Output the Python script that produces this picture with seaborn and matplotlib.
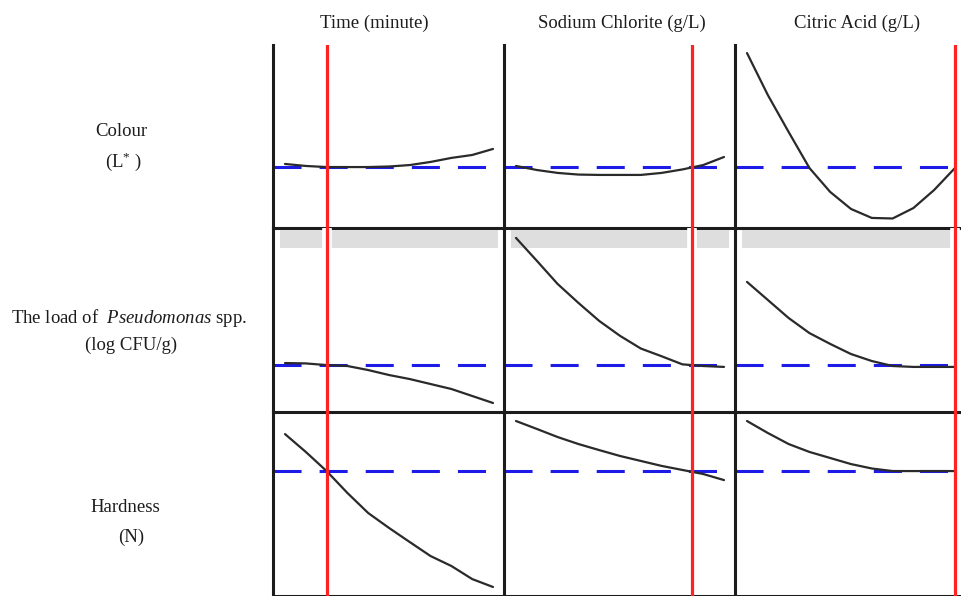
import matplotlib
matplotlib.use("Agg")
import matplotlib.pyplot as plt
import numpy as np
import pandas as pd
import seaborn as sns

# Factors (columns) and responses (rows) of the optimisation plot
factors = ["Time (minute)", "Sodium Chlorite (g/L)", "Citric Acid (g/L)"]
responses = ["Colour", "Pseudomonas", "Hardness"]
row_labels = [
    ["Colour", r"(L$^{*}$ )"],
    [r"The load of  $\mathit{Pseudomonas}$ spp.", "(log CFU/g)"],
    ["Hardness", "(N)"],
]

# Coded factor levels along each response trace
levels = [-1.0, -0.8, -0.6, -0.4, -0.2, 0.0, 0.2, 0.4, 0.6, 0.8, 1.0]

# Optimum factor settings (coded) and predicted responses (relative scale 0-100)
optimum = [-0.6, 0.69, 1.0]
predicted = [33.3, 25.5, 67.9]

# Response traces, relative scale (0 = bottom, 100 = top of each row)
colour_time = [35.0, 33.9, 33.3, 33.3, 33.3, 33.6, 34.4, 36.1, 38.3, 39.9, 43.2]
colour_chlorite = [33.9, 31.7, 30.1, 29.2, 29.0, 29.0, 29.0, 30.1, 32.0, 34.4, 38.8]
colour_citric = [95.6, 72.7, 52.5, 32.8, 19.7, 10.4, 5.5, 5.2, 10.9, 20.8, 32.8]

pseudo_time = [26.6, 26.4, 25.5, 25.0, 22.8, 20.1, 17.9, 15.2, 12.5, 8.7, 4.9]
pseudo_chlorite = [94.6, 82.2, 69.6, 59.3, 49.5, 41.4, 34.5, 30.3, 25.9, 25.0, 24.5]
pseudo_citric = [70.7, 60.9, 51.1, 42.9, 37.0, 31.5, 27.7, 25.0, 24.5, 24.5, 24.5]

hard_time = [88.0, 78.3, 67.9, 56.0, 45.1, 37.0, 29.3, 21.7, 16.3, 9.2, 4.9]
hard_chlorite = [95.1, 90.8, 86.4, 82.6, 79.3, 76.1, 73.4, 70.7, 68.5, 66.3, 63.0]
hard_citric = [95.1, 88.6, 82.6, 78.3, 75.0, 71.7, 69.3, 67.9, 67.9, 67.9, 67.9]

traces = {
    ("Colour", factors[0]): colour_time,
    ("Colour", factors[1]): colour_chlorite,
    ("Colour", factors[2]): colour_citric,
    ("Pseudomonas", factors[0]): pseudo_time,
    ("Pseudomonas", factors[1]): pseudo_chlorite,
    ("Pseudomonas", factors[2]): pseudo_citric,
    ("Hardness", factors[0]): hard_time,
    ("Hardness", factors[1]): hard_chlorite,
    ("Hardness", factors[2]): hard_citric,
}

frames = []
for (resp, fac), vals in traces.items():
    frames.append(pd.DataFrame({"response": resp, "factor": fac,
                                "level": levels, "value": vals}))
df = pd.concat(frames, ignore_index=True)

sns.set_theme(style="white")
plt.rcParams["font.family"] = ["Liberation Serif", "DejaVu Serif"]
plt.rcParams["mathtext.fontset"] = "custom"
plt.rcParams["mathtext.rm"] = "Liberation Serif"
plt.rcParams["mathtext.it"] = "Liberation Serif:italic"

W, H = 961, 596
fig = plt.figure(figsize=(W / 100, H / 100), dpi=100)
fig.patch.set_facecolor("white")

col_left = [273, 504, 735]
col_w = 231
row_top = [45, 228, 412]
row_bot = [228, 412, 596]
pad_px = 12
unit_px = 104.0

ink = "#1c1c1c"
red = "#ff2222"
blue = "#1c1ce6"

for i, resp in enumerate(responses):
    for j, fac in enumerate(factors):
        ax = fig.add_axes([col_left[j] / W, 1 - row_bot[i] / H,
                           col_w / W, (row_bot[i] - row_top[i]) / H])
        ax.patch.set_visible(False)
        ax.set_xlim(-1 - pad_px / unit_px, -1 + (col_w - pad_px) / unit_px)
        ax.set_ylim(0, 100)
        for side in ["top", "right"]:
            ax.spines[side].set_visible(False)
        for side in ["left", "bottom"]:
            ax.spines[side].set_color(ink)
            ax.spines[side].set_linewidth(2.2)
            ax.spines[side].set_zorder(2.5)

        if i == 1:
            # shaded band at the top of the middle row
            ax.axhspan(89.1, 98.9, xmin=7 / col_w, xmax=(col_w - 6) / col_w,
                       color="#dedede", lw=0, zorder=1)
            ax.axvline(optimum[j], ymin=0.87, ymax=0.995, color="white",
                       lw=7, zorder=1.5)

        ax.axhline(predicted[i], color=blue, lw=2.2,
                   linestyle=(0, (20.2 / 2.2, 13.0 / 2.2)), zorder=2)

        sub = df[(df["response"] == resp) & (df["factor"] == fac)]
        sns.lineplot(data=sub, x="level", y="value", ax=ax, color="#2a2a2a",
                     lw=1.6, zorder=3, legend=False)
        ax.lines[-1].set_solid_joinstyle("round")
        ax.set_xticks([])
        ax.set_yticks([])
        ax.set_xlabel("")
        ax.set_ylabel("")

        ax.axvline(optimum[j], color=red, lw=2.3, zorder=4)

# column titles
title_x = [374, 622, 857]
for fac, x in zip(factors, title_x):
    fig.text(x / W, 1 - 28 / H, fac, ha="center", va="baseline",
             fontsize=13.5, color=ink)

# row labels
label_pos = [[(121, 136), (123, 167)],
             [(129, 323), (131, 350)],
             [(125, 512), (131, 542)]]
for lines, pos in zip(row_labels, label_pos):
    for text, (x, y) in zip(lines, pos):
        fig.text(x / W, 1 - y / H, text, ha="center", va="baseline",
                 fontsize=13.5, color=ink)

fig.savefig("out.png", dpi=100, facecolor="white")
